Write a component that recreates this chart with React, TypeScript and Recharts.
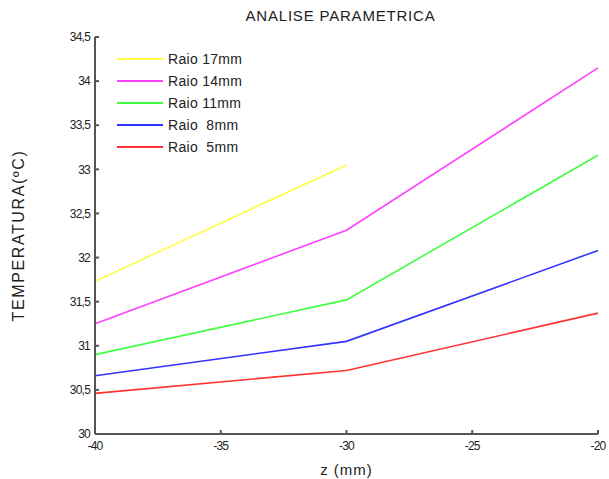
import { LineChart, Line, XAxis, YAxis } from "recharts";

const zValues = [-40, -30, -20];
const raio17 = [31.73, 33.05, null];
const raio14 = [31.25, 32.31, 34.15];
const raio11 = [30.9, 31.52, 33.16];
const raio8 = [30.66, 31.05, 32.08];
const raio5 = [30.46, 30.72, 31.37];

const xTicks = [-40, -35, -30, -25, -20];
const yTicks = [30, 30.5, 31, 31.5, 32, 32.5, 33, 33.5, 34, 34.5];

const SERIES = [
  { key: "r17", name: "Raio 17mm", color: "#ffff40", values: raio17 },
  { key: "r14", name: "Raio 14mm", color: "#ff40ff", values: raio14 },
  { key: "r11", name: "Raio 11mm", color: "#40ff40", values: raio11 },
  { key: "r8", name: "Raio  8mm", color: "#3333ff", values: raio8 },
  { key: "r5", name: "Raio  5mm", color: "#ff3333", values: raio5 },
];

const data = zValues.map((z, i) => {
  const row: Record<string, number | null> = { z };
  SERIES.forEach((s) => {
    row[s.key] = s.values[i];
  });
  return row;
});

const FONT = "'Liberation Sans', Arial, sans-serif";
const AXIS_COLOR = "#555";

// legend drawn as an overlay so it does not push the plot area around
function LegendBox() {
  return (
    <div
      style={{
        position: "absolute",
        left: 117,
        top: 48,
        fontFamily: FONT,
        fontSize: 14,
        color: "#222",
      }}
    >
      {SERIES.map((s) => (
        <div
          key={s.key}
          style={{ display: "flex", alignItems: "center", height: 22, whiteSpace: "pre" }}
        >
          <div style={{ width: 46, height: 2, background: s.color, marginRight: 5 }} />
          <span style={{ letterSpacing: 0.3 }}>{s.name}</span>
        </div>
      ))}
    </div>
  );
}

export default function App() {
  return (
    <div style={{ position: "absolute", left: 0, top: 0, width: 609, height: 479, background: "#fff" }}>
      <div
        style={{
          position: "absolute",
          left: 0,
          width: 609,
          top: 7,
          textAlign: "center",
          paddingLeft: 72,
          boxSizing: "border-box",
          fontFamily: FONT,
          fontSize: 15,
          letterSpacing: 0.8,
          color: "#222",
        }}
      >
        ANALISE PARAMETRICA
      </div>
      <LineChart
        width={609}
        height={479}
        data={data}
        margin={{ top: 37, right: 11, bottom: 0, left: 40 }}
      >
        <XAxis
          dataKey="z"
          type="number"
          domain={[-40, -20]}
          ticks={xTicks}
          height={45}
          tickSize={-4}
          tickMargin={11}
          stroke={AXIS_COLOR}
          strokeWidth={2}
          tick={{ fill: "#222", fontSize: 12, fontFamily: FONT, letterSpacing: -0.8 }}
          label={{
            value: "z (mm)",
            position: "insideBottom",
            offset: 4,
            fill: "#222",
            fontSize: 15,
            letterSpacing: 1,
            fontFamily: FONT,
          }}
        />
        <YAxis
          type="number"
          domain={[30, 34.5]}
          ticks={yTicks}
          width={55}
          tickSize={-4}
          tickMargin={9}
          stroke={AXIS_COLOR}
          strokeWidth={2}
          tickFormatter={(v: number) => String(v).replace(".", ",")}
          tick={{ fill: "#222", fontSize: 12, fontFamily: FONT, letterSpacing: -0.8 }}
          label={{
            value: "TEMPERATURA(ºC)",
            angle: -90,
            position: "insideLeft",
            offset: -22,
            style: { textAnchor: "middle", letterSpacing: 1.6 },
            fill: "#222",
            fontSize: 16,
            fontFamily: FONT,
          }}
        />
        {SERIES.map((s) => (
          <Line
            key={s.key}
            dataKey={s.key}
            name={s.name}
            type="linear"
            stroke={s.color}
            strokeWidth={1.6}
            dot={false}
            isAnimationActive={false}
          />
        ))}
      </LineChart>
      <LegendBox />
    </div>
  );
}
